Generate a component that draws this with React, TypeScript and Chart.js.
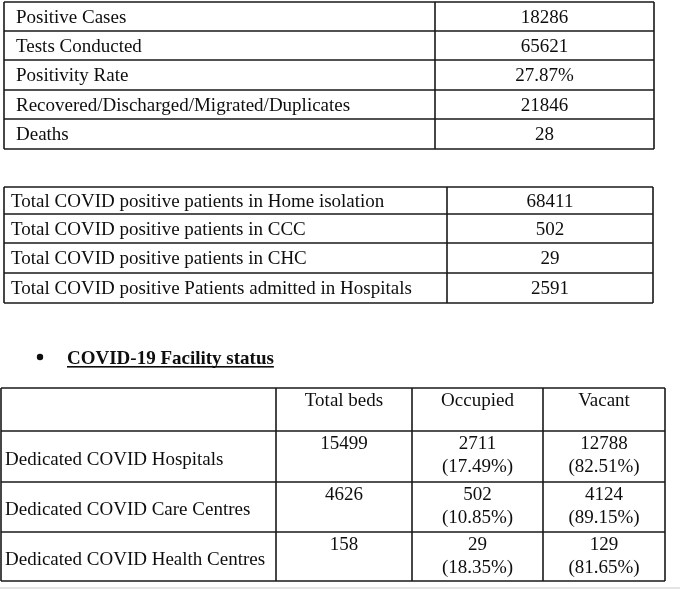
import React, { useEffect, useRef } from "react";
import { Chart, registerables } from "chart.js";
Chart.register(...registerables);

const summaryLabels = ["Positive Cases", "Tests Conducted", "Positivity Rate", "Recovered/Discharged/Migrated/Duplicates", "Deaths"];
const summaryValues = ["18286", "65621", "27.87%", "21846", "28"];

const patientLabels = [
  "Total COVID positive patients in Home isolation",
  "Total COVID positive patients in CCC",
  "Total COVID positive patients in CHC",
  "Total COVID positive Patients admitted in Hospitals",
];
const patientValues = ["68411", "502", "29", "2591"];

const facilityTitle = "COVID-19 Facility status";
const facilityHeaders = ["", "Total beds", "Occupied", "Vacant"];
const facilityNames = ["Dedicated COVID Hospitals", "Dedicated COVID Care Centres", "Dedicated COVID Health Centres"];
const totalBeds = ["15499", "4626", "158"];
const occupiedBeds = ["2711", "502", "29"];
const occupiedPct = ["(17.49%)", "(10.85%)", "(18.35%)"];
const vacantBeds = ["12788", "4124", "129"];
const vacantPct = ["(82.51%)", "(89.15%)", "(81.65%)"];

const FONT = "19px 'Liberation Serif', 'Times New Roman', serif";
const BOLD = "bold 19px 'Liberation Serif', 'Times New Roman', serif";
const INK = "#0e0e0e";
const LINE = "#1a1a1a";
const DY = 1.5;

function grid(ctx: CanvasRenderingContext2D, xs: number[], ys: number[]) {
  ctx.strokeStyle = LINE;
  ctx.lineWidth = 1.6;
  ctx.beginPath();
  for (const y of ys) {
    ctx.moveTo(xs[0], y);
    ctx.lineTo(xs[xs.length - 1], y);
  }
  for (const x of xs) {
    ctx.moveTo(x, ys[0]);
    ctx.lineTo(x, ys[ys.length - 1]);
  }
  ctx.stroke();
}

const tablesPlugin = {
  id: "tables",
  beforeDraw(chart: any) {
    const ctx: CanvasRenderingContext2D = chart.ctx;
    ctx.save();
    ctx.fillStyle = "#ffffff";
    ctx.fillRect(0, 0, chart.width, chart.height);
    ctx.restore();
  },
  afterDraw(chart: any) {
    const ctx: CanvasRenderingContext2D = chart.ctx;
    ctx.save();
    ctx.fillStyle = INK;
    ctx.font = FONT;
    ctx.textBaseline = "middle";

    // Table 1
    const t1x = [4, 435, 654];
    const t1y = [2, 31, 60, 90, 119, 149];
    grid(ctx, t1x, t1y);
    summaryLabels.forEach((l, i) => {
      const cy = (t1y[i] + t1y[i + 1]) / 2 + DY;
      ctx.textAlign = "left";
      ctx.fillText(l, 16, cy);
      ctx.textAlign = "center";
      ctx.fillText(summaryValues[i], (t1x[1] + t1x[2]) / 2, cy);
    });

    // Table 2
    const t2x = [4, 447, 653];
    const t2y = [187, 214, 243, 273, 303];
    grid(ctx, t2x, t2y);
    patientLabels.forEach((l, i) => {
      const cy = (t2y[i] + t2y[i + 1]) / 2 + DY;
      ctx.textAlign = "left";
      ctx.fillText(l, 11, cy);
      ctx.textAlign = "center";
      ctx.fillText(patientValues[i], (t2x[1] + t2x[2]) / 2, cy);
    });

    // Heading
    ctx.beginPath();
    ctx.arc(40, 357, 3.2, 0, Math.PI * 2);
    ctx.fill();
    ctx.font = BOLD;
    ctx.textAlign = "left";
    ctx.textBaseline = "alphabetic";
    ctx.fillText(facilityTitle, 67, 364);
    const w = ctx.measureText(facilityTitle).width;
    ctx.fillRect(67, 366, w, 1.6);

    // Table 3
    ctx.font = FONT;
    const t3x = [1, 276, 412, 543, 665];
    const t3y = [388, 431, 482, 532, 581];
    grid(ctx, t3x, t3y);
    ctx.textBaseline = "middle";
    ctx.textAlign = "center";
    facilityHeaders.forEach((h, c) => {
      if (!h) return;
      ctx.fillText(h, (t3x[c] + t3x[c + 1]) / 2, t3y[0] + 12 + DY);
    });
    facilityNames.forEach((n, r) => {
      const top = t3y[r + 1];
      const cy = (top + t3y[r + 2]) / 2;
      ctx.textAlign = "left";
      ctx.fillText(n, 5, cy + 2 + DY);
      ctx.textAlign = "center";
      const l1 = top + 12 + DY;
      const l2 = top + 35 + DY;
      ctx.fillText(totalBeds[r], (t3x[1] + t3x[2]) / 2, l1);
      ctx.fillText(occupiedBeds[r], (t3x[2] + t3x[3]) / 2, l1);
      ctx.fillText(occupiedPct[r], (t3x[2] + t3x[3]) / 2, l2);
      ctx.fillText(vacantBeds[r], (t3x[3] + t3x[4]) / 2, l1);
      ctx.fillText(vacantPct[r], (t3x[3] + t3x[4]) / 2, l2);
    });

    // faint page edge
    ctx.fillStyle = "#e4e4e4";
    ctx.fillRect(0, 587, chart.width, 2);
    ctx.restore();
  },
};

export default function App() {
  const ref = useRef<HTMLCanvasElement>(null);
  useEffect(() => {
    document.body.style.margin = "0";
    if (!ref.current) return;
    const chart = new Chart(ref.current, {
      type: "bar",
      data: { labels: [], datasets: [] },
      options: {
        animation: false,
        responsive: false,
        plugins: { legend: { display: false }, tooltip: { enabled: false } },
        scales: { x: { display: false }, y: { display: false } },
      },
      plugins: [tablesPlugin as any],
    });
    return () => chart.destroy();
  }, []);
  return <canvas ref={ref} width={680} height={595} style={{ display: "block" }} />;
}
